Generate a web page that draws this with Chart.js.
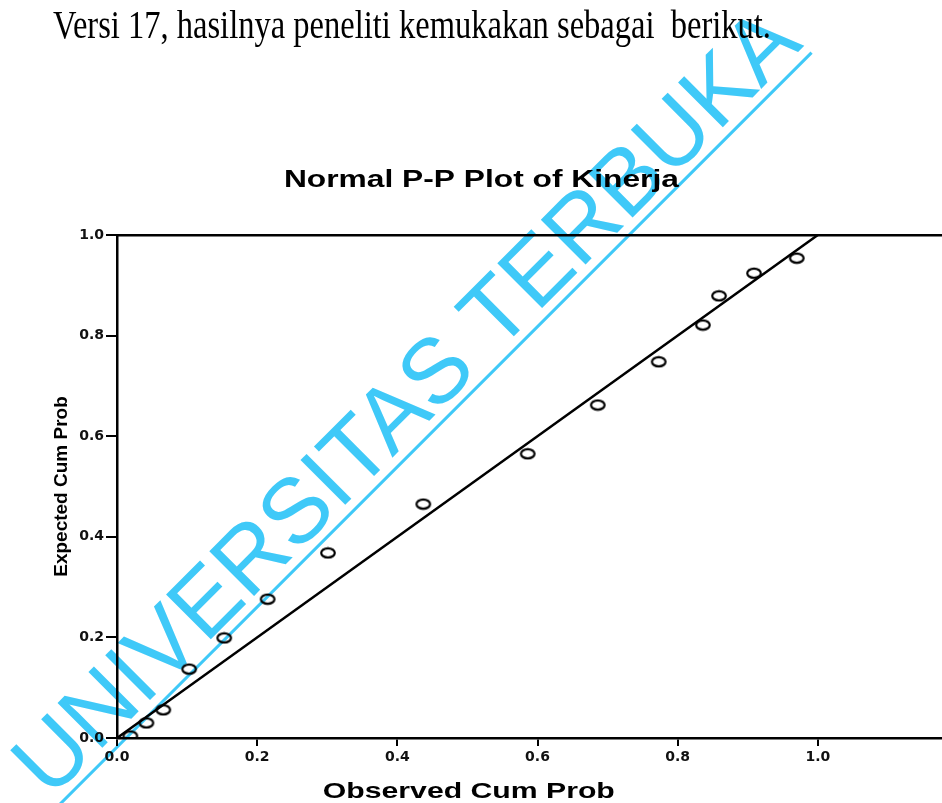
<!DOCTYPE html>
<html><head><meta charset="utf-8">
<script src="https://cdn.jsdelivr.net/npm/chart.js@4.4.1/dist/chart.umd.min.js"></script>
<style>
html,body{margin:0;padding:0;background:#fff;overflow:hidden;width:942px;height:803px;}
#wrap{position:absolute;left:0;top:0;width:980px;height:803px;}
</style></head><body>
<div id="wrap"><canvas id="c" width="980" height="803"></canvas></div>
<script>
// ---- data ----
const observedCumProb = [0.019, 0.042, 0.066, 0.103, 0.153, 0.215, 0.301, 0.437, 0.586, 0.686, 0.773, 0.836, 0.859, 0.909, 0.970];
const expectedCumProb = [0.004, 0.030, 0.056, 0.137, 0.199, 0.276, 0.368, 0.465, 0.565, 0.662, 0.748, 0.821, 0.879, 0.924, 0.954];
const diagonalX = [0, 1];
const diagonalY = [0, 1];
const xTicks = [0, 0.2, 0.4, 0.6, 0.8, 1.0];
const yTicks = [0, 0.2, 0.4, 0.6, 0.8, 1.0];
const chartTitle = 'Normal P-P Plot of Kinerja';
const xTitle = 'Observed Cum Prob';
const yTitle = 'Expected Cum Prob';
const introText = 'Versi 17, hasilnya peneliti kemukakan sebagai  berikut.';
const watermarkText = 'UNIVERSITAS TERBUKA';

// ellipse marker
const marker = document.createElement('canvas');
marker.width = 18; marker.height = 13;
(function(){
  const m = marker.getContext('2d');
  m.strokeStyle = '#000'; m.lineWidth = 2.2;
  m.beginPath(); m.ellipse(9, 6.5, 6.8, 4.6, 0, 0, Math.PI*2); m.stroke();
})();

function drawFitted(ctx, text, font, x, y, targetW, align) {
  ctx.save();
  ctx.font = font; ctx.textBaseline = 'alphabetic'; ctx.textAlign = 'left';
  ctx.fillStyle = '#000';
  const w = ctx.measureText(text).width;
  const sx = targetW / w;
  const left = align === 'center' ? x - targetW / 2 : x;
  ctx.translate(left, y); ctx.scale(sx, 1);
  ctx.fillText(text, 0, 0);
  ctx.restore();
}

const decorPlugin = {
  id: 'decor',
  beforeDraw(chart) {
    const ctx = chart.ctx;
    ctx.save(); ctx.fillStyle = '#fff'; ctx.fillRect(0, 0, chart.width, chart.height); ctx.restore();
  },
  afterDraw(chart) {
    const ctx = chart.ctx;
    const xs = chart.scales.x;
    drawFitted(ctx, introText, '40px "Liberation Serif"', 53, 38, 718, 'left');
    drawFitted(ctx, chartTitle, 'bold 24px "Liberation Sans"', xs.getPixelForValue(0.52), 187, 395, 'center');
    drawFitted(ctx, xTitle, 'bold 22px "Liberation Sans"', xs.getPixelForValue(0.502), 798, 292, 'center');
    // watermark
    ctx.save();
    ctx.globalCompositeOperation = 'multiply';
    ctx.translate(50, 800);
    ctx.rotate(-Math.PI / 4);
    ctx.fillStyle = '#3fc9f8';
    ctx.strokeStyle = '#3fc9f8';
    ctx.font = '92px "Liberation Sans"';
    ctx.textBaseline = 'alphabetic';
    ctx.fillText(watermarkText, 0, 0);
    ctx.lineWidth = 3;
    ctx.beginPath(); ctx.moveTo(-60, 10); ctx.lineTo(1067, 10); ctx.stroke();
    ctx.restore();
  }
};

const tickFont = { family: 'DejaVu Sans', size: 14, weight: 'bold' };

new Chart(document.getElementById('c'), {
  type: 'scatter',
  data: {
    datasets: [
      {
        label: 'points',
        data: observedCumProb.map((v, i) => ({ x: v, y: expectedCumProb[i] })),
        pointStyle: marker,
        pointRadius: 7,
        order: 0
      },
      {
        label: 'diagonal',
        data: diagonalX.map((v, i) => ({ x: v, y: diagonalY[i] })),
        showLine: true,
        borderColor: '#000',
        borderWidth: 2.5,
        pointRadius: 0,
        order: 1
      }
    ]
  },
  options: {
    responsive: false,
    animation: false,
    devicePixelRatio: 1,
    layout: { padding: { top: 235, left: 0, right: 22, bottom: 0 } },
    plugins: { legend: { display: false }, tooltip: { enabled: false }, title: { display: false } },
    scales: {
      x: {
        type: 'linear', position: 'bottom', min: 0, max: 1.2,
        afterBuildTicks: s => { s.ticks = xTicks.map(v => ({ value: v })); },
        afterFit: s => { s.height = 65; },
        ticks: { font: tickFont, color: '#111', padding: 3, callback: v => Number(v).toFixed(1), maxRotation: 0 },
        grid: { display: true, drawOnChartArea: false, drawTicks: true, tickLength: 8, color: '#000', lineWidth: 2 },
        border: { display: true, color: '#000', width: 2.5 }
      },
      xTop: {
        type: 'linear', position: 'top', min: 0, max: 1.2,
        afterFit: s => { s.height = 0; },
        ticks: { display: false },
        grid: { display: false },
        border: { display: true, color: '#000', width: 2.5 }
      },
      y: {
        type: 'linear', position: 'left', min: 0, max: 1,
        afterBuildTicks: s => { s.ticks = yTicks.map(v => ({ value: v })); },
        afterFit: s => { s.width = 117; },
        ticks: { font: tickFont, color: '#111', padding: 2, callback: v => Number(v).toFixed(1) },
        grid: { display: true, drawOnChartArea: false, drawTicks: true, tickLength: 11, color: '#000', lineWidth: 2 },
        border: { display: true, color: '#000', width: 2.5 },
        title: { display: true, text: yTitle, color: '#000', font: { family: 'Liberation Sans', size: 19, weight: 'bold' }, padding: { top: 50, bottom: 0 } }
      }
    }
  },
  plugins: [decorPlugin]
});
</script>
</body></html>
